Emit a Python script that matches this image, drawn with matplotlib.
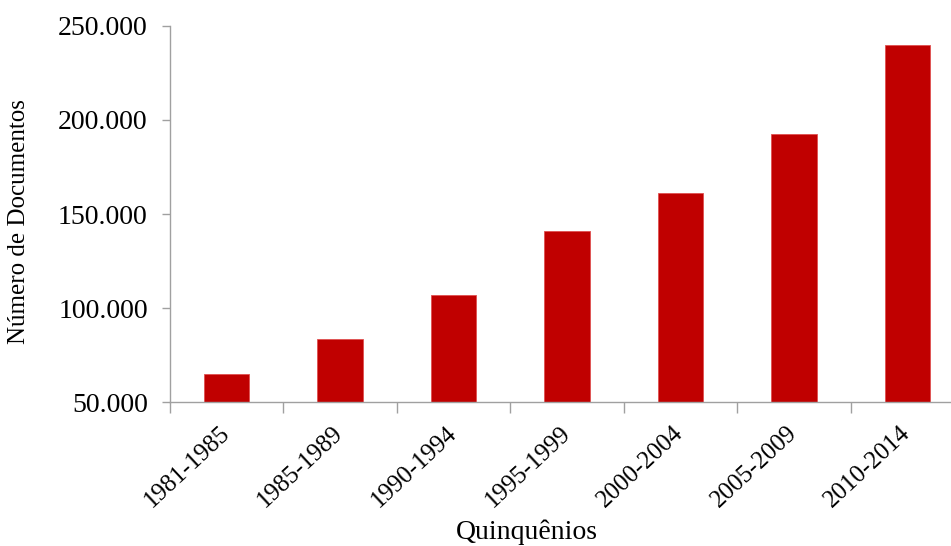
import numpy as np
import matplotlib.pyplot as plt
from matplotlib.ticker import FuncFormatter

plt.rcParams['font.family'] = ['Liberation Serif', 'DejaVu Serif']

periodos = ['1981-1985', '1985-1989', '1990-1994', '1995-1999',
            '2000-2004', '2005-2009', '2010-2014']
documentos = [65200, 83400, 107100, 141200, 161200, 192700, 239500]

fig = plt.figure(figsize=(9.51, 5.46), dpi=100)
ax = fig.add_axes([170 / 951, 143.7 / 546, 794 / 951, 376.6 / 546])

x = np.arange(len(periodos))
ax.bar(x, documentos, width=0.4, color='#C00000', edgecolor='#e05050',
       linewidth=0.6, zorder=2)

ax.set_xlim(-0.5, len(periodos) - 0.5)
ax.set_ylim(50000, 250000)
ax.set_yticks(np.arange(50000, 250001, 50000))
ax.yaxis.set_major_formatter(FuncFormatter(lambda v, p: f'{int(v):,}'.replace(',', '.')))

# category separators as major ticks, labels on minor ticks at bar centres
ax.set_xticks(np.arange(-0.5, len(periodos), 1.0))
ax.set_xticklabels([])
ax.set_xticks(x, minor=True)
ax.set_xticklabels(periodos, minor=True, rotation=43, ha='right', va='center',
                   rotation_mode='anchor', fontsize=18)
ax.tick_params(axis='x', which='minor', length=0, pad=20)
ax.tick_params(axis='x', which='major', length=8, width=1, color='#a0a0a0')
ax.tick_params(axis='y', length=6, width=1, color='#a0a0a0', labelsize=20, pad=10)

for s in ['top', 'right']:
    ax.spines[s].set_visible(False)
for s in ['left', 'bottom']:
    ax.spines[s].set_color('#a0a0a0')
    ax.spines[s].set_linewidth(1)

ax.set_ylabel('Número de Documentos', fontsize=18)
ax.yaxis.set_label_coords(-0.176, 0.479)
ax.set_xlabel('Quinquênios', fontsize=20)
ax.xaxis.set_label_coords(0.45, -0.312)

fig.savefig('out.png', dpi=100)
